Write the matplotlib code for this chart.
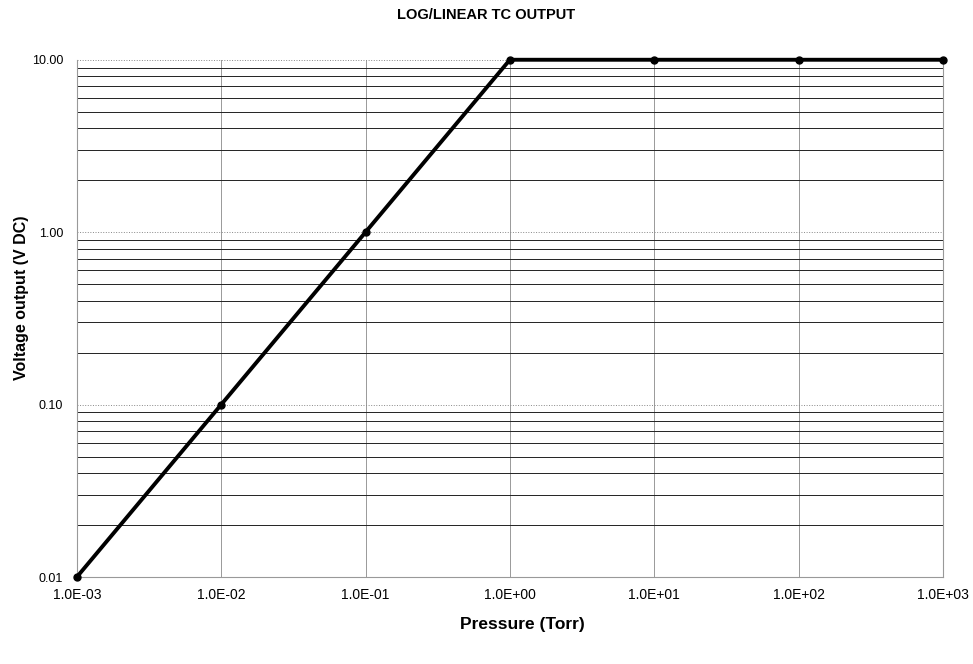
import numpy as np
import matplotlib.pyplot as plt
from matplotlib.ticker import FixedLocator, LogLocator, NullFormatter

plt.rcParams['font.family'] = ['Liberation Sans', 'DejaVu Sans']

pressure = [1e-3, 1e-2, 1e-1, 1e0, 1e1, 1e2, 1e3]
voltage = [0.01, 0.1, 1.0, 10.0, 10.0, 10.0, 10.0]
x_labels = ['1.0E-03', '1.0E-02', '1.0E-01', '1.0E+00', '1.0E+01', '1.0E+02', '1.0E+03']
y_ticks = [0.01, 0.1, 1.0, 10.0]
y_labels = ['0.01', '0.10', '1.00', '10.00']

fig = plt.figure(figsize=(9.73, 6.64), dpi=100)
ax = fig.add_axes([0.079, 0.131, 0.890, 0.779])
ax.set_xscale('log')
ax.set_yscale('log')
ax.set_xlim(1e-3, 1e3)
ax.set_ylim(0.01, 10)

# grid lines
ax.yaxis.set_minor_locator(LogLocator(base=10, subs=np.arange(2, 10)))
ax.yaxis.set_minor_formatter(NullFormatter())
ax.xaxis.set_minor_locator(FixedLocator([]))
ax.grid(True, which='minor', axis='y', color='#222222', linewidth=0.7)
ax.grid(True, which='major', axis='y', color='#888888', linewidth=0.7, linestyle=':')
ax.grid(True, which='major', axis='x', color='#999999', linewidth=0.7)

ax.plot(pressure, voltage, color='black', linewidth=2.8, marker='o', markersize=5, zorder=5, clip_on=False)

ax.set_xticks(pressure)
ax.set_xticklabels(x_labels, fontsize=10)
ax.set_yticks(y_ticks)
ax.set_yticklabels(y_labels, fontsize=9)
ax.tick_params(axis='x', which='both', length=0, pad=8)
ax.tick_params(axis='y', which='both', length=0, pad=10)

for s in ax.spines.values():
    s.set_color('#999999')
    s.set_linewidth(0.8)
ax.spines['top'].set_visible(False)

fig.text(0.5, 0.978, 'LOG/LINEAR TC OUTPUT', ha='center', va='center', fontsize=10.5, fontweight='bold')
fig.text(0.537, 0.06, 'Pressure (Torr)', ha='center', va='center', fontsize=12.5, fontweight='bold')
fig.text(0.022, 0.551, 'Voltage output (V DC)', ha='center', va='center', rotation=90, fontsize=11.5, fontweight='bold')

plt.savefig('out.png', dpi=100)
